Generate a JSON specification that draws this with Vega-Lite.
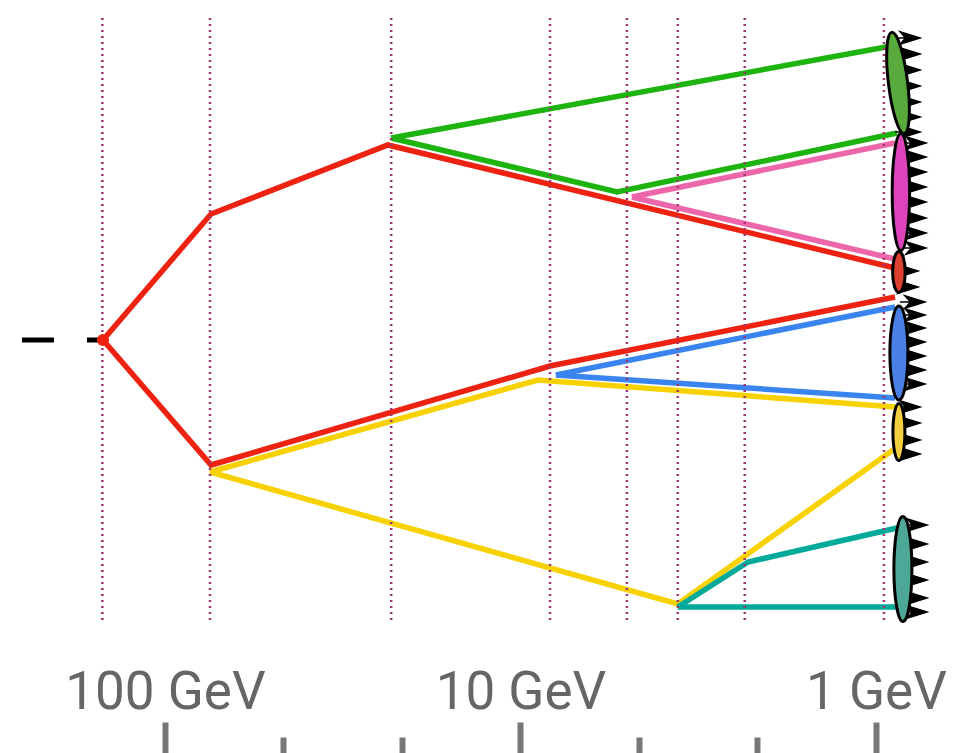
{
  "$schema": "https://vega.github.io/schema/vega-lite/v6.json",
  "width": 954,
  "height": 753,
  "autosize": {"type": "none"},
  "padding": 0,
  "background": "white",
  "config": {"view": {"stroke": null}},
  "datasets": {
    "lines": [
      {"s": "red_a", "c": "red", "o": 1, "e": 149.4, "y": 340},
      {"s": "red_a", "c": "red", "o": 2, "e": 74.2, "y": 214},
      {"s": "red_a", "c": "red", "o": 3, "e": 23.6, "y": 145},
      {"s": "red_a", "c": "red", "o": 4, "e": 0.884, "y": 268},
      {"s": "red_b", "c": "red", "o": 1, "e": 149.4, "y": 340},
      {"s": "red_b", "c": "red", "o": 2, "e": 74.2, "y": 465},
      {"s": "red_b", "c": "red", "o": 3, "e": 8.26, "y": 366},
      {"s": "red_b", "c": "red", "o": 4, "e": 0.884, "y": 297},
      {"s": "green_a", "c": "green", "o": 1, "e": 23.1, "y": 138},
      {"s": "green_a", "c": "green", "o": 2, "e": 0.873, "y": 45},
      {"s": "green_b", "c": "green", "o": 1, "e": 23.1, "y": 138},
      {"s": "green_b", "c": "green", "o": 2, "e": 5.35, "y": 192},
      {"s": "green_b", "c": "green", "o": 3, "e": 0.873, "y": 133},
      {"s": "pink_a", "c": "pink", "o": 1, "e": 4.86, "y": 197},
      {"s": "pink_a", "c": "pink", "o": 2, "e": 0.884, "y": 143},
      {"s": "pink_b", "c": "pink", "o": 1, "e": 4.86, "y": 197},
      {"s": "pink_b", "c": "pink", "o": 2, "e": 0.884, "y": 259},
      {"s": "blue_a", "c": "blue", "o": 1, "e": 7.95, "y": 375},
      {"s": "blue_a", "c": "blue", "o": 2, "e": 0.884, "y": 307},
      {"s": "blue_b", "c": "blue", "o": 1, "e": 7.95, "y": 375},
      {"s": "blue_b", "c": "blue", "o": 2, "e": 0.884, "y": 398},
      {"s": "yellow_a", "c": "yellow", "o": 1, "e": 74.7, "y": 472},
      {"s": "yellow_a", "c": "yellow", "o": 2, "e": 8.93, "y": 380},
      {"s": "yellow_a", "c": "yellow", "o": 3, "e": 0.884, "y": 407},
      {"s": "yellow_b", "c": "yellow", "o": 1, "e": 74.7, "y": 472},
      {"s": "yellow_b", "c": "yellow", "o": 2, "e": 3.61, "y": 604},
      {"s": "yellow_b", "c": "yellow", "o": 3, "e": 0.896, "y": 450},
      {"s": "teal_a", "c": "teal", "o": 1, "e": 3.61, "y": 607},
      {"s": "teal_a", "c": "teal", "o": 2, "e": 2.29, "y": 562},
      {"s": "teal_a", "c": "teal", "o": 3, "e": 0.873, "y": 528},
      {"s": "teal_b", "c": "teal", "o": 1, "e": 3.61, "y": 607},
      {"s": "teal_b", "c": "teal", "o": 2, "e": 0.873, "y": 607}
    ],
    "scales": [
      {"e": 150}, {"e": 74.7}, {"e": 23.1}, {"e": 8.26}, {"e": 5.02}, {"e": 3.61}, {"e": 2.34}, {"e": 0.95}
    ],
    "incoming": [
      {"o": 1, "e": 252.5, "y": 340},
      {"o": 2, "e": 149.4, "y": 340}
    ],
    "vertex": [
      {"e": 149.4, "y": 340}
    ],
    "arrows": [
      {"h": "g", "e": 0.802, "y": 38}, {"h": "g", "e": 0.802, "y": 54}, {"h": "g", "e": 0.802, "y": 70},
      {"h": "g", "e": 0.802, "y": 86}, {"h": "g", "e": 0.802, "y": 102}, {"h": "g", "e": 0.802, "y": 117},
      {"h": "g", "e": 0.802, "y": 132},
      {"h": "m", "e": 0.772, "y": 143}, {"h": "m", "e": 0.772, "y": 157}, {"h": "m", "e": 0.772, "y": 172},
      {"h": "m", "e": 0.772, "y": 187}, {"h": "m", "e": 0.772, "y": 202}, {"h": "m", "e": 0.772, "y": 218},
      {"h": "m", "e": 0.772, "y": 233}, {"h": "m", "e": 0.772, "y": 248},
      {"h": "r", "e": 0.813, "y": 271}, {"h": "r", "e": 0.813, "y": 287},
      {"h": "b", "e": 0.777, "y": 302}, {"h": "b", "e": 0.777, "y": 315}, {"h": "b", "e": 0.777, "y": 328},
      {"h": "b", "e": 0.777, "y": 342}, {"h": "b", "e": 0.777, "y": 356}, {"h": "b", "e": 0.777, "y": 370},
      {"h": "b", "e": 0.777, "y": 384},
      {"h": "y", "e": 0.802, "y": 407}, {"h": "y", "e": 0.802, "y": 423}, {"h": "y", "e": 0.802, "y": 440},
      {"h": "y", "e": 0.802, "y": 454},
      {"h": "t", "e": 0.767, "y": 525}, {"h": "t", "e": 0.767, "y": 544}, {"h": "t", "e": 0.767, "y": 562},
      {"h": "t", "e": 0.767, "y": 580}, {"h": "t", "e": 0.767, "y": 598}, {"h": "t", "e": 0.767, "y": 612}
    ],
    "hadrons": [
      {"h": "g", "e": 0.867, "y": 83},
      {"h": "m", "e": 0.851, "y": 192},
      {"h": "r", "e": 0.862, "y": 272},
      {"h": "b", "e": 0.862, "y": 353},
      {"h": "y", "e": 0.862, "y": 432},
      {"h": "t", "e": 0.84, "y": 569}
    ]
  },
  "layer": [
    {
      "data": {"name": "lines"},
      "mark": {"type": "line", "strokeWidth": 5.5, "strokeJoin": "miter", "strokeCap": "butt"},
      "encoding": {
        "x": {
          "field": "e", "type": "quantitative",
          "scale": {"type": "log", "domain": [0.6033, 291.1], "reverse": true, "nice": false, "zero": false},
          "axis": {
            "values": [100, 46.4159, 21.5443, 10, 4.64159, 2.15443, 1],
            "domain": false, "grid": false, "title": null,
            "tickSize": {"condition": {"test": "datum.value == 100 || datum.value == 10 || datum.value == 1", "value": -31}, "value": -16},
            "tickWidth": 6, "tickColor": "#777777",
            "labelExpr": "datum.value == 100 ? '100 GeV' : datum.value == 10 ? '10 GeV' : datum.value == 1 ? '1 GeV' : ''",
            "labelFont": "Roboto",
            "labelFontSize": 53, "labelColor": "#666666", "labelPadding": -14,
            "labelBaseline": "alphabetic", "labelLimit": 0,
            "labelOverlap": false, "labelFlush": false, "labelBound": false
          }
        },
        "y": {"field": "y", "type": "quantitative", "scale": {"domain": [0, 753], "reverse": true, "nice": false, "zero": false}, "axis": null},
        "color": {
          "field": "c", "type": "nominal",
          "scale": {"domain": ["red", "green", "pink", "blue", "yellow", "teal"], "range": ["#ee2211", "#1eb40f", "#ee66aa", "#3a84f0", "#f8d200", "#00aa9a"]},
          "legend": null
        },
        "detail": {"field": "s"},
        "order": {"field": "o"}
      }
    },
    {
      "data": {"name": "scales"},
      "mark": {"type": "rule", "strokeDash": [2, 4], "strokeWidth": 2.5, "color": "#a03870"},
      "encoding": {
        "x": {"field": "e", "type": "quantitative", "scale": {"type": "log", "domain": [0.6033, 291.1], "reverse": true, "nice": false, "zero": false}},
        "y": {"datum": 18, "type": "quantitative", "scale": {"domain": [0, 753], "reverse": true, "nice": false, "zero": false}},
        "y2": {"datum": 622}
      }
    },
    {
      "data": {"name": "incoming"},
      "mark": {"type": "line", "strokeWidth": 5, "strokeDash": [32, 33], "color": "black", "strokeCap": "butt"},
      "encoding": {
        "x": {"field": "e", "type": "quantitative", "scale": {"type": "log", "domain": [0.6033, 291.1], "reverse": true, "nice": false, "zero": false}},
        "y": {"field": "y", "type": "quantitative", "scale": {"domain": [0, 753], "reverse": true, "nice": false, "zero": false}},
        "order": {"field": "o"}
      }
    },
    {
      "data": {"name": "vertex"},
      "mark": {"type": "point", "shape": "circle", "filled": true, "size": 144, "color": "#ee2211", "opacity": 1},
      "encoding": {
        "x": {"field": "e", "type": "quantitative", "scale": {"type": "log", "domain": [0.6033, 291.1], "reverse": true, "nice": false, "zero": false}},
        "y": {"field": "y", "type": "quantitative", "scale": {"domain": [0, 753], "reverse": true, "nice": false, "zero": false}}
      }
    },
    {
      "data": {"name": "arrows"},
      "mark": {"type": "point", "shape": "M1,0L-1,-0.62L-0.45,0L-1,0.62Z M-0.45,0L-1.5,0", "size": 400, "fill": "black", "stroke": "black", "strokeWidth": 1.5, "opacity": 1, "fillOpacity": 1},
      "encoding": {
        "x": {"field": "e", "type": "quantitative", "scale": {"type": "log", "domain": [0.6033, 291.1], "reverse": true, "nice": false, "zero": false}},
        "y": {"field": "y", "type": "quantitative", "scale": {"domain": [0, 753], "reverse": true, "nice": false, "zero": false}}
      }
    },
    {
      "data": {"name": "hadrons"},
      "mark": {"type": "point", "size": 14400, "stroke": "black", "strokeWidth": 3, "opacity": 1, "fillOpacity": 1, "filled": true},
      "encoding": {
        "x": {"field": "e", "type": "quantitative", "scale": {"type": "log", "domain": [0.6033, 291.1], "reverse": true, "nice": false, "zero": false}},
        "y": {"field": "y", "type": "quantitative", "scale": {"domain": [0, 753], "reverse": true, "nice": false, "zero": false}},
        "shape": {
          "field": "h", "type": "nominal",
          "scale": {
            "domain": ["g", "m", "r", "b", "y", "t"],
            "range": [
              "M0,-0.85A0.16,0.85 0 1,1 0,0.85A0.16,0.85 0 1,1 0,-0.85Z",
              "M0,-0.975A0.145,0.975 0 1,1 0,0.975A0.145,0.975 0 1,1 0,-0.975Z",
              "M0,-0.34A0.105,0.34 0 1,1 0,0.34A0.105,0.34 0 1,1 0,-0.34Z",
              "M0,-0.783A0.15,0.783 0 1,1 0,0.783A0.15,0.783 0 1,1 0,-0.783Z",
              "M0,-0.475A0.1,0.475 0 1,1 0,0.475A0.1,0.475 0 1,1 0,-0.475Z",
              "M0,-0.875A0.15,0.875 0 1,1 0,0.875A0.15,0.875 0 1,1 0,-0.875Z"
            ]
          },
          "legend": null
        },
        "fill": {
          "field": "h", "type": "nominal",
          "scale": {"domain": ["g", "m", "r", "b", "y", "t"], "range": ["#57aa3b", "#dd44bb", "#dc4030", "#4a80e6", "#f2cf3e", "#4ea898"]},
          "legend": null
        },
        "angle": {"condition": {"test": "datum.h == 'g'", "value": 353}, "value": 0}
      }
    }
  ]
}
